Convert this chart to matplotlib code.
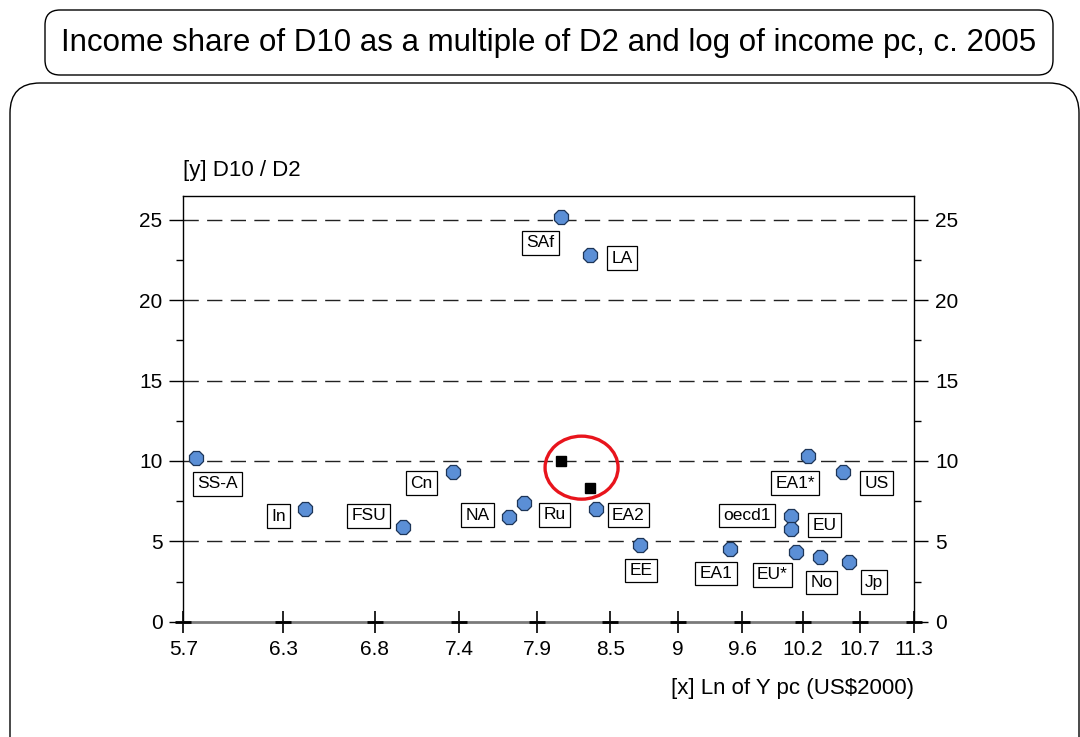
import matplotlib
matplotlib.use("Agg")
import matplotlib.pyplot as plt
from matplotlib.patches import FancyBboxPatch, Ellipse
from matplotlib.transforms import ScaledTranslation
from matplotlib.ticker import NullLocator, NullFormatter

plt.rcParams['font.family'] = ['Liberation Sans', 'DejaVu Sans']

# ln of income pc (x) vs D10/D2 (y), c. 2005
regions = ["SS-A", "In", "FSU", "Cn", "NA", "Ru", "SAf", "LA", "EA2", "EE",
           "EA1", "oecd1", "EU", "EA1*", "US", "EU*", "No", "Jp"]
ln_ypc = [5.77, 6.39, 7.00, 7.34, 7.73, 7.84, 8.12, 8.34, 8.39, 8.74,
          9.51, 10.07, 10.07, 10.23, 10.57, 10.12, 10.35, 10.63]
d10_d2 = [10.2, 7.0, 5.9, 9.3, 6.5, 7.4, 25.2, 22.8, 7.0, 4.8,
          4.5, 6.6, 5.75, 10.3, 9.3, 4.35, 4.0, 3.7]

# the two circled black squares
alt_x = [8.12, 8.34]
alt_y = [10.0, 8.3]

xtick_vals = [5.7, 6.26, 6.82, 7.38, 7.94, 8.5, 9.06, 9.62, 10.18, 10.74, 11.3]
xtick_labels = ["5.7", "6.3", "6.8", "7.4", "7.9", "8.5", "9", "9.6", "10.2", "10.7", "11.3"]
ytick_vals = [0, 5, 10, 15, 20, 25]

# label box offsets from each point, in pixels (right, up)
label_offsets = [(21, -26), (-27, -7), (-34, 11), (-32, -11), (-31, 2), (31, -12),
                 (-21, -26), (32, -3), (32, -6), (1, -26), (-14, -24), (-44, 0),
                 (33, 4), (-13, -27), (34, -11), (-24, -23), (1, -25), (25, -20)]

fig = plt.figure(figsize=(10.8, 7.37), dpi=100)

# framed panels
fig.add_artist(FancyBboxPatch((0.45, 6.62), 10.08, 0.65, boxstyle="round,pad=0,rounding_size=0.15",
                              transform=fig.dpi_scale_trans, fc="white", ec="black", lw=1.0))
fig.add_artist(FancyBboxPatch((0.10, -0.6), 10.69, 7.14, boxstyle="round,pad=0,rounding_size=0.3",
                              transform=fig.dpi_scale_trans, fc="none", ec="black", lw=1.0))
fig.text(549 / 1080, (737 - 43) / 737, "Income share of D10 as a multiple of D2 and log of income pc, c. 2005",
         ha="center", va="center", fontsize=22.5)

ax = fig.add_axes([183.3 / 1080, 115.3 / 737, 731 / 1080, 425.7 / 737])
ax.set_xscale("log")
ax.set_xlim(5.7, 11.3)
ax.set_ylim(0, 26.49)

ax.set_xticks(xtick_vals)
ax.set_xticklabels(xtick_labels)
ax.xaxis.set_minor_locator(NullLocator())
ax.xaxis.set_minor_formatter(NullFormatter())
ax.set_yticks(ytick_vals)
ax.set_yticks([2.5, 7.5, 12.5, 17.5, 22.5], minor=True)

ax.tick_params(axis="x", direction="inout", length=16, width=1.2, labelsize=15, pad=5)
ax.tick_params(axis="y", which="major", direction="out", length=10, width=1.0,
               labelsize=15, pad=5, right=True, labelright=True)
ax.tick_params(axis="y", which="minor", direction="out", length=5, width=1.0, right=True)

for s in ["left", "right", "top"]:
    ax.spines[s].set_linewidth(1.0)
ax.spines["bottom"].set_color("#7a7a7a")
ax.spines["bottom"].set_linewidth(2.0)
ax.plot(xtick_vals, [0] * len(xtick_vals), ls="none", marker="_", ms=12, mew=2.0,
        color="black", clip_on=False, zorder=5)

for v in ytick_vals[1:]:
    ax.axhline(v, color="#222222", lw=1.0, ls=(0, (11, 6)), zorder=1)

ax.plot(ln_ypc, d10_d2, ls="none", marker="8", ms=11, mfc="#5b8fd6", mec="#1d3557",
        mew=0.9, zorder=4)
ax.plot(alt_x, alt_y, ls="none", marker="s", ms=7.5, color="black", zorder=4)

for name, x, y, (dx, dy) in zip(regions, ln_ypc, d10_d2, label_offsets):
    ax.annotate(name, (x, y), xytext=(dx, dy), textcoords="offset pixels",
                ha="center", va="center", fontsize=12.5, zorder=3,
                bbox=dict(boxstyle="square,pad=0.25", fc="white", ec="black", lw=0.9))

# red ring around the squares
cx = (alt_x[0] * alt_x[1]) ** 0.5
cy = (alt_y[0] + alt_y[1]) / 2
ring = Ellipse((0.06, 0.07), 0.73, 0.63, transform=fig.dpi_scale_trans + ScaledTranslation(cx, cy, ax.transData),
               fc="none", ec="#e8141c", lw=2.4, zorder=6)
ax.add_artist(ring)

ax.text(0.0, 1.061, "[y] D10 / D2", transform=ax.transAxes, ha="left", va="center", fontsize=16)
ax.text(1.0, -0.156, "[x] Ln of Y pc (US\\$2000)", transform=ax.transAxes, ha="right", va="center", fontsize=16)

fig.savefig("out.png", dpi=100)
